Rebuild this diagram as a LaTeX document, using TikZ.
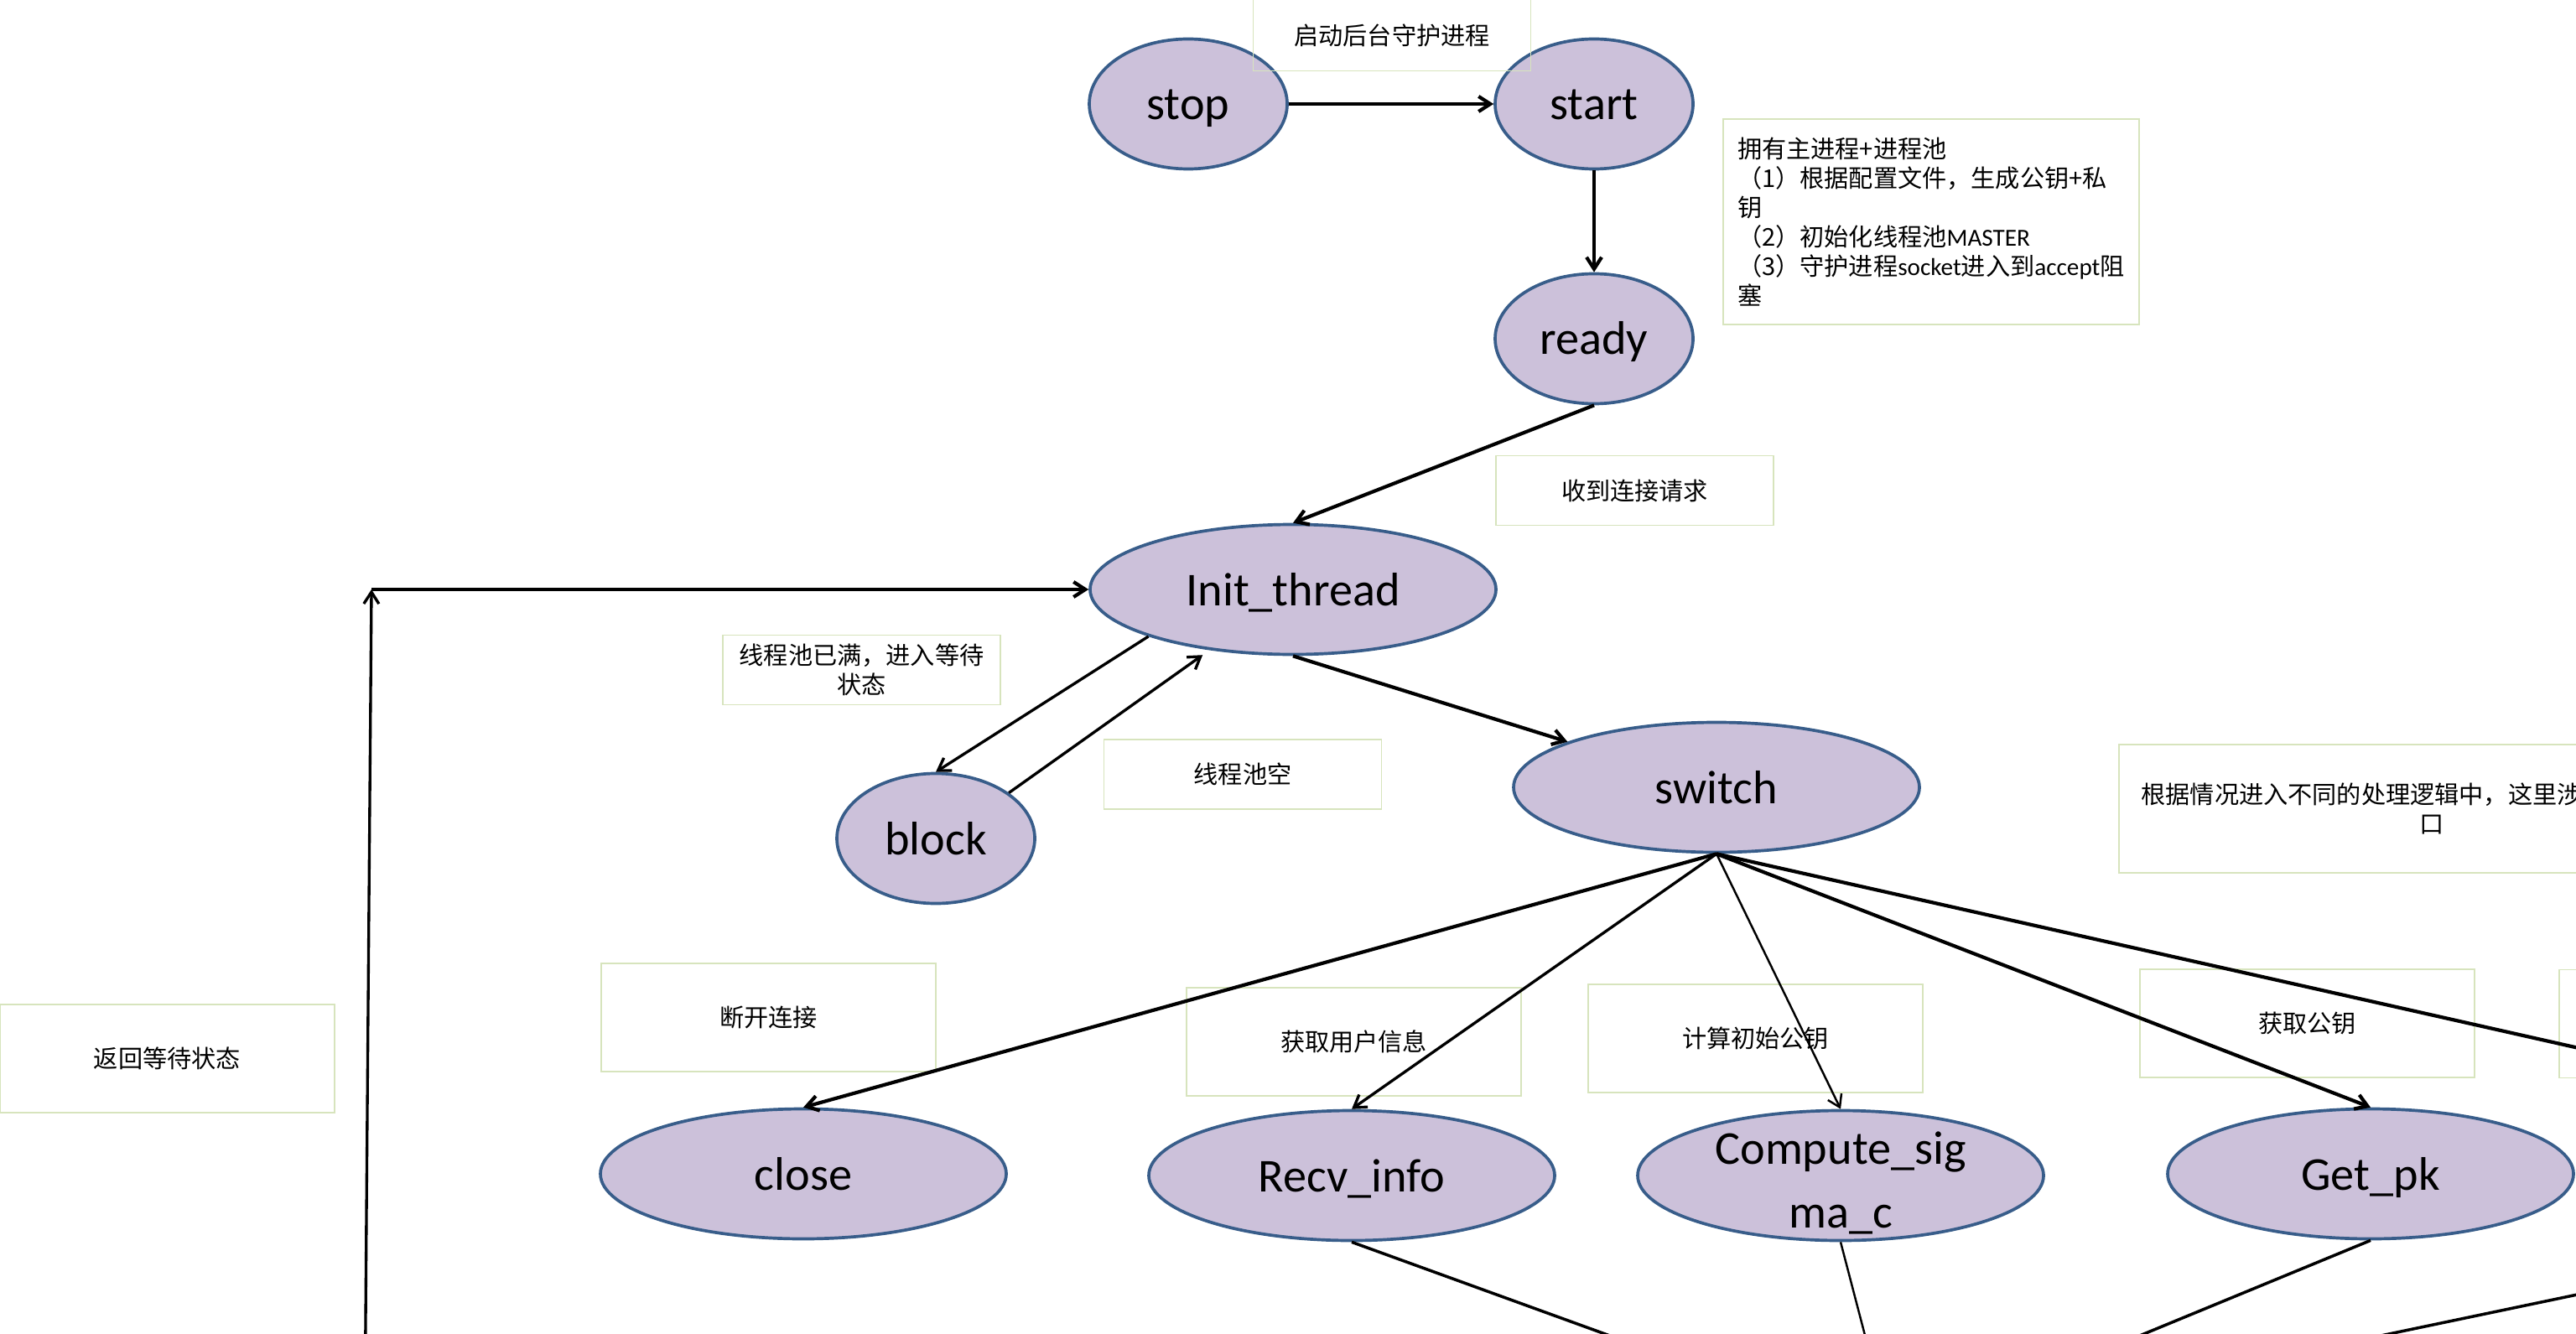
\documentclass[tikz,border=0pt]{standalone}
\usepackage{fontspec}
\setmainfont{Carlito}
\newfontfamily\cjk{Noto Sans CJK SC}
\usetikzlibrary{arrows.meta,shapes.geometric}
\definecolor{statefill}{HTML}{CCC1DA}
\definecolor{stateline}{HTML}{385D8A}
\definecolor{noteline}{HTML}{D7E4BD}

\begin{document}
\begin{tikzpicture}[
  font=\fontsize{16}{21.5}\selectfont,
  >={Straight Barb[length=1.4mm,width=1.8mm]},
  state/.style={
    ellipse,
    draw=stateline,
    fill=statefill,
    line width=1.05pt,
    inner sep=0pt,
    align=center,
    text height=5mm,
    text depth=1.2mm,
    minimum width=2.36cm,
    minimum height=1.55cm
  },
  wide state/.style={
    state,
    minimum width=4.84cm
  },
  note/.style={
    draw=noteline,
    line width=0.5pt,
    inner sep=0pt,
    align=center,
    font=\cjk\fontsize{8.3}{10}\selectfont,
    minimum width=3.99cm,
    minimum height=1.29cm
  },
  small note/.style={
    note,
    minimum width=3.31cm,
    minimum height=0.83cm
  },
  link/.style={
    ->,
    line width=1.2pt
  },
  thin link/.style={
    ->,
    line width=0.95pt
  },
  merge line/.style={
    line width=1pt
  }
]
\useasboundingbox (0,0) rectangle (30.72,-15.91);
\clip (0,0) rectangle (30.72,-15.91);

% States
\node[state] (stop) at (14.17,-1.24) {stop};
\node[state] (start) at (19.01,-1.24) {start};
\node[state] (ready) at (19.01,-4.04) {ready};
\node[wide state] (init) at (15.42,-7.03) {Init\_thread};
\node[state] (block) at (11.16,-10.00) {block};
\node[wide state] (switch) at (20.47,-9.39) {switch};
\node[wide state] (close) at (9.58,-14.00) {close};
\node[wide state] (recv) at (16.12,-14.02) {Recv\_info};
\node[wide state,text height={},text depth={},inner ysep=-3mm] (compute) at (21.95,-14.02) {\rule{0pt}{5.6mm}Compute\_sig\\ma\_c};
\node[wide state] (getpk) at (28.27,-14.00) {Get\_pk};

% Ends that lie outside the page
\coordinate (loopfoot) at (4.35,-17.0);
\coordinate (loopcorner) at (4.43,-7.03);
\coordinate (farin) at (33.95,-13.22);
\coordinate (farout) at (33.89,-14.78);
\coordinate (merge) at (22.56,-17.15);

% Notes
\node[small note,minimum height=0.85cm] (daemonnote) at (16.60,-0.42) {启动后台守护进程};
\node[note,align=left,text width=4.62cm,inner xsep=0.17cm,minimum height=2.45cm] (mainnote) at (23.03,-2.645) {%
  拥有主进程+进程池\\
  （1）根据配置文件，生成公钥+私\\
  钥\\
  （2）初始化线程池{\rmfamily MASTER}\\
  （3）守护进程{\rmfamily socket}进入到{\rmfamily accept}阻\\
  塞};
\node[small note] (requestnote) at (19.495,-5.85) {收到连接请求};
\node[small note] (fullnote) at (10.275,-7.99) {线程池已满，进入等待\\状态};
\node[small note] (emptynote) at (14.82,-9.235) {线程池空};
\node[note,minimum width=7.46cm,minimum height=1.53cm] (dispatchnote) at (29.00,-9.645) {根据情况进入不同的处理逻辑中，这里涉\hspace*{1.68cm}\\口};
\node[note] (backnote) at (1.995,-12.625) {返回等待状态};
\node[note] (closenote) at (9.165,-12.135) {断开连接};
\node[note] (recvnote) at (16.145,-12.425) {获取用户信息};
\node[note] (computenote) at (20.935,-12.385) {计算初始公钥};
\node[note] (getpknote) at (27.515,-12.205) {获取公钥};
\node[note] (farnote) at (32.515,-12.21) {};

% Transitions
\draw[link] (stop) -- (start);
\draw[link] (start) -- (ready);
\draw[link] (ready.south) -- (init.north);
\draw[thin link] (loopfoot) -- (loopcorner);
\draw[link] (loopcorner) -- (init.west);
\draw[thin link] (init.198) -- (block.north);
\draw[thin link,shorten >=1mm] (block.32) -- (init.216);
\draw[link] (init.south) -- (switch.163);
\draw[link] (switch.south) -- (close.north);
\draw[thin link] (switch.south) -- (recv.north);
\draw[->,line width=0.7pt] (switch.south) -- (compute.north);
\draw[link] (switch.south) -- (getpk.north);
\draw[link] (switch.south) -- (farin);
\draw[merge line] (recv.south) -- (merge);
\draw[merge line,line width=0.7pt] (compute.south) -- (merge);
\draw[merge line] (getpk.south) -- (merge);
\draw[merge line] (farout) -- (merge);

\end{tikzpicture}
\end{document}
